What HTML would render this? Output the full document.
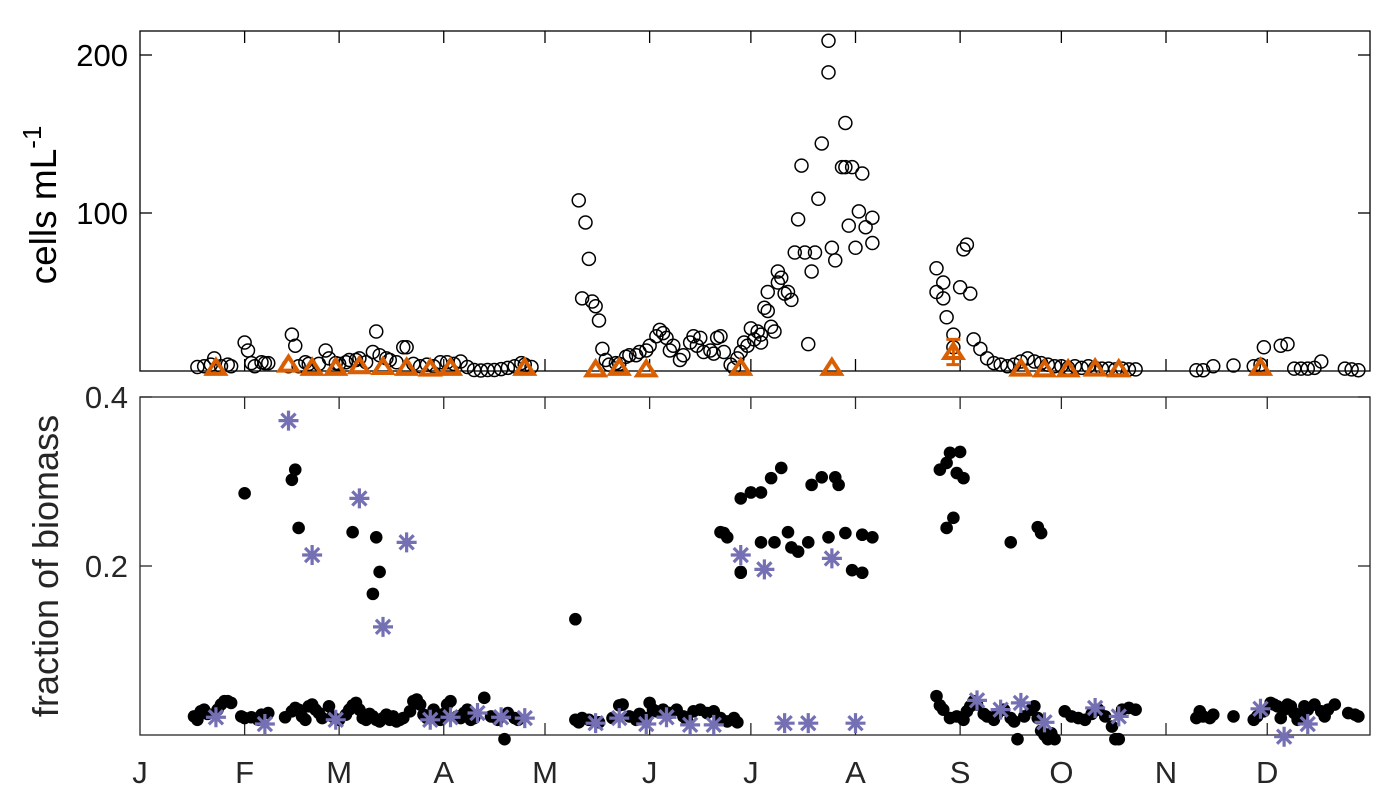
<!DOCTYPE html>
<html><head><meta charset="utf-8"><style>
body{margin:0;background:#fff}
svg{display:block;font-family:"Liberation Sans",sans-serif}
</style></head><body>
<svg id="c" width="1400" height="800"></svg>
<script>
const monthLabels=["J","F","M","A","M","J","J","A","S","O","N","D"];
const monthDays=[0,31,59,90,120,151,181,212,243,273,304,334];
const topTicks=[100,200];
const botTicks=[0.2,0.4];
const cellDays=[17,19,21,22,24,26,27,31,32,33,34,36,37,38,44,45,46,47,49,50,53,55,56,58,59,61,62,64,65,67,69,70,71,73,74,76,78,79,81,83,85,87,89,91,93,95,97,99,101,103,105,107,109,111,113,114,116,
130,131,132,133,134,135,136,137,138,139,141,142,144,145,147,148,150,151,153,154,155,156,157,158,160,161,163,164,165,166,167,169,170,171,172,173,175,176,177,178,179,180,181,182,183,184,184,185,186,186,187,188,189,189,190,191,192,193,194,195,196,197,198,199,200,201,202,204,204,205,206,208,209,209,210,211,212,213,214,215,217,217,
236,236,238,238,239,241,241,243,244,245,246,247,249,251,253,255,257,259,261,263,265,267,269,271,273,275,277,279,281,283,285,287,289,291,293,295,
313,315,318,324,330,332,333,338,340,342,344,346,348,350,357,359,361];
const cellVals=[2.5,3,4,8,3,4,3,18,13,5,3,5.5,5,5,3,23,16,3,5.5,4.5,4.5,13,8,5,4.5,5.5,7,7,8,5.5,12,25,10,8,7,5.5,15,15,4.5,3,4,3,5.5,5.5,4.5,6,2.5,0.6,0.3,0.6,0.6,1.2,2,3,5,4,2.5,
108,46,94,71,44,41,32,14,7,4,5,4.5,9,10,10,12,13,16,22,26,24,21,13,16,7,10,18,22,16,21,12,13,11,21,22,12,4,2,8,12,18,16,27,20,25,23,18,40,38,50,28,25,63,56,59,49,50,45,75,96,130,75,17,63,75,109,144,209,189,78,70,129,157,129,92,129,78,101,125,91,97,81,65,50,
56,46,34,15,23,53,77,80,49,20,14,8,5,4,3,4,6,8,6,5,4,3,3,2,3,2,3,2,1.5,1.5,1,1.5,1,1,0.5,0.5,
3,3.5,3,4,15,16,17,1.5,1.5,1.5,2,6,1.5,1,0.5,0.5,0.5];
const triDays=[22.5,44,51,58,65,72,79,86,92,114,135,142,150,178,205,241,261,268,275,283,290,332];
const triVals=[2,4,2,2,3,2.5,2,1.5,2,2,1,2,1,2,2,12,1.5,1,1,1.5,1,2];
const triErr=[0,0,0,0,0,0,0,0,0,0,0,0,0,0,0,8,0,0,0,0,0,0];
const fracDays=[31,45,46,47,63,70,71,69,129,173,174,178,178,181,184,187,190,172,184,188,192,193,195,198,204,209,214,217,211,214,178,199,202,206,207,240,243,239,237,242,244,241,239,258,266,267,
16,17,18,19,20,23,24,25,26,27,30,31,33,35,36,38,43,45,46,47,48,49,50,51,52,53,54,56,57,59,61,62,63,64,65,66,67,68,69,70,71,72,73,74,75,76,77,78,80,81,82,83,84,85,87,89,90,91,92,94,95,96,97,98,99,102,104,106,108,109,111,112,
129,130,131,133,136,140,142,143,145,147,148,150,151,152,153,155,157,159,161,162,164,166,168,170,172,174,176,177,
236,237,238,240,242,244,245,246,247,248,250,251,253,254,256,258,259,260,262,264,265,266,267,268,269,270,271,274,276,278,280,282,284,286,288,289,290,291,293,295,
313,314,315,317,318,324,330,331,333,335,336,337,338,339,340,341,342,343,344,345,346,348,350,351,352,354,358,360,361];
const fracVals=[0.286,0.302,0.314,0.245,0.240,0.234,0.193,0.167,0.137,0.239,0.234,0.280,0.193,0.287,0.287,0.304,0.316,0.240,0.228,0.228,0.240,0.222,0.217,0.228,0.234,0.239,0.237,0.234,0.195,0.192,0.192,0.296,0.305,0.305,0.296,0.334,0.335,0.322,0.314,0.310,0.304,0.257,0.245,0.228,0.246,0.239,
0.022,0.018,0.028,0.030,0.025,0.030,0.036,0.040,0.040,0.038,0.022,0.020,0.021,0.018,0.024,0.026,0.021,0.028,0.032,0.030,0.022,0.018,0.034,0.036,0.030,0.026,0.020,0.034,0.022,0.018,0.024,0.030,0.035,0.038,0.030,0.020,0.018,0.025,0.022,0.018,0.016,0.020,0.024,0.018,0.022,0.016,0.018,0.020,0.028,0.040,0.042,0.036,0.024,0.020,0.030,0.018,0.025,0.036,0.040,0.022,0.020,0.026,0.030,0.018,0.020,0.044,0.022,0.018,-0.005,0.026,0.020,0.018,
0.018,0.015,0.020,0.018,0.015,0.020,0.035,0.036,0.022,0.018,0.025,0.020,0.038,0.030,0.028,0.030,0.026,0.030,0.022,0.018,0.028,0.030,0.026,0.028,0.020,0.016,0.020,0.015,
0.046,0.035,0.030,0.020,0.022,0.018,0.028,0.034,0.040,0.036,0.025,0.022,0.018,0.025,0.030,0.020,0.016,-0.005,0.022,0.030,0.034,0.020,0.005,0.000,-0.005,0.002,-0.005,0.028,0.022,0.020,0.018,0.025,0.030,0.022,0.010,-0.005,-0.005,0.030,0.032,0.030,
0.020,0.028,0.022,0.020,0.024,0.022,0.018,0.022,0.028,0.038,0.036,0.034,0.020,0.030,0.036,0.034,0.026,0.018,0.022,0.034,0.030,0.036,0.028,0.022,0.030,0.036,0.026,0.024,0.022];
const starDays=[22.5,37,44,51,58,65,72,79,86,92,100,107,114,135,142,150,156,163,170,178,185,191,198,205,212,248,255,261,268,283,290,332,339,346];
const starVals=[0.021,0.013,0.372,0.213,0.018,0.280,0.128,0.228,0.018,0.021,0.026,0.021,0.020,0.014,0.020,0.013,0.021,0.012,0.012,0.213,0.196,0.014,0.014,0.209,0.014,0.041,0.030,0.038,0.015,0.032,0.022,0.031,-0.002,0.013];

const NS="http://www.w3.org/2000/svg";
const svg=document.getElementById('c');
const L=140,R=1370,T1=31,B1=371,T2=397,B2=735;
const x=d=>L+d*3.375;
const y1=v=>B1-v*1.58;
const y2=v=>B2-v*845;
function mk(tag,attrs,parent){const e=document.createElementNS(NS,tag);for(const k in attrs)e.setAttribute(k,attrs[k]);(parent||svg).appendChild(e);return e;}
function g(name){const e=mk('g',{});return e;}

[[T1,B1,'top-axes','#000'],[T2,B2,'bottom-axes','#262626']].forEach(([t,b,n,col])=>{
  const fr=mk('rect',{x:L,y:t,width:R-L,height:b-t,fill:'none',stroke:col,'stroke-width':1.3});
  
  const tg=g(n+'-x-ticks');
  monthDays.forEach(d=>{if(d===0)return;
    mk('line',{x1:x(d),x2:x(d),y1:b,y2:b-12,stroke:col,'stroke-width':1.3},tg);
    mk('line',{x1:x(d),x2:x(d),y1:t,y2:t+12,stroke:col,'stroke-width':1.3},tg);});
});
const yt1=g('top-y-ticks');
topTicks.forEach(v=>{mk('line',{x1:L,x2:L+12,y1:y1(v),y2:y1(v),stroke:'#000','stroke-width':1.3},yt1);
  mk('line',{x1:R,x2:R-12,y1:y1(v),y2:y1(v),stroke:'#000','stroke-width':1.3},yt1);
  const t=mk('text',{x:L-12,y:y1(v)+11,'text-anchor':'end','font-size':31,fill:'#000'},yt1);t.textContent=String(v);});
const yt2=g('bottom-y-ticks');
botTicks.forEach(v=>{mk('line',{x1:L,x2:L+12,y1:y2(v),y2:y2(v),stroke:'#262626','stroke-width':1.3},yt2);
  mk('line',{x1:R,x2:R-12,y1:y2(v),y2:y2(v),stroke:'#262626','stroke-width':1.3},yt2);
  const t=mk('text',{x:L-12,y:y2(v)+11,'text-anchor':'end','font-size':31,fill:'#262626'},yt2);t.textContent=v.toFixed(1);});
const xl=g('x-tick-labels');
monthLabels.forEach((m,i)=>{const t=mk('text',{x:x(monthDays[i]),y:783,'text-anchor':'middle','font-size':31,fill:'#262626'},xl);t.textContent=m;});
let t=mk('text',{transform:'translate(56,205) rotate(-90)','text-anchor':'middle','font-size':37,fill:'#000'});

t.innerHTML='cells mL<tspan dy="-15" font-size="26">-1</tspan>';
t=mk('text',{transform:'translate(58,566) rotate(-90)','text-anchor':'middle','font-size':36,fill:'#262626'});

t.textContent='fraction of biomass';

const cg=g('cell-circles');
cellDays.forEach((d,i)=>{const c=mk('circle',{cx:x(d),cy:y1(cellVals[i]),r:6.5,fill:'none',stroke:'#000','stroke-width':1.5},cg);
  });
const tg=g('triangle-series');
triDays.forEach((d,i)=>{const cx=x(d),cy=y1(triVals[i]);
  if(triErr[i]>0){const e=mk('path',{d:`M${cx},${y1(triVals[i]-triErr[i])}V${y1(triVals[i]+triErr[i])}M${cx-7},${y1(triVals[i]-triErr[i])}h14M${cx-7},${y1(triVals[i]+triErr[i])}h14`,stroke:'#d95f02','stroke-width':3,fill:'none'},tg);
    }
  const p=mk('path',{d:`M${cx},${cy-8}L${cx+9},${cy+6}L${cx-9},${cy+6}Z`,fill:'none',stroke:'#d95f02','stroke-width':4,'stroke-linejoin':'miter'},tg);
  });
const fg=g('fraction-dots');
fracDays.forEach((d,i)=>{const c=mk('circle',{cx:x(d),cy:y2(fracVals[i]),r:6.3,fill:'#000'},fg);
  });
const sg=g('asterisk-series');
starDays.forEach((d,i)=>{const cx=x(d),cy=y2(starVals[i]),r=10,q=r*0.707;
  const p=mk('path',{d:`M${cx-r},${cy}h${2*r}M${cx},${cy-r}v${2*r}M${cx-q},${cy-q}l${2*q},${2*q}M${cx-q},${cy+q}l${2*q},${-2*q}`,stroke:'#7570b3','stroke-width':3.2,fill:'none'},sg);
  });
</script>
</body></html>
